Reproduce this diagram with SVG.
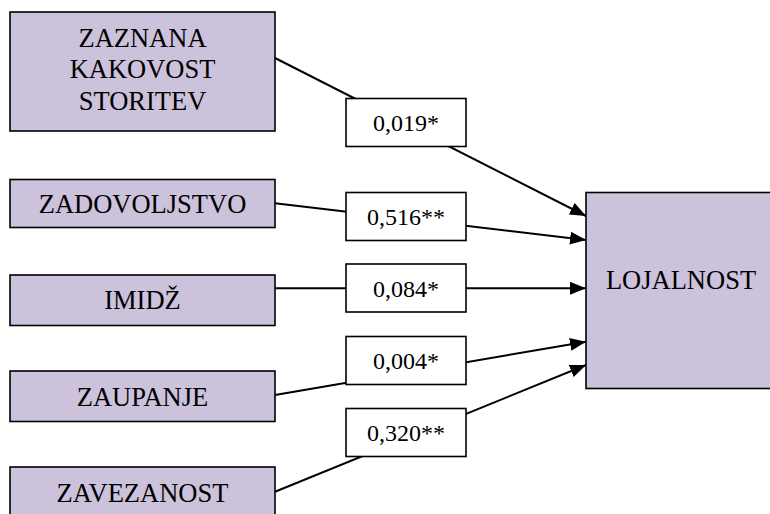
<svg xmlns="http://www.w3.org/2000/svg" width="770" height="514" viewBox="0 0 770 514">
<style>
.node{fill:#CCC2DB;stroke:#000;stroke-width:1.6}
.lbl{fill:#fff;stroke:#000;stroke-width:1.6}
.t{font-family:"Liberation Serif","Times New Roman",serif;font-size:26.5px;fill:#000;text-anchor:middle}
.tl{font-family:"Liberation Serif","Times New Roman",serif;font-size:24px;fill:#000;text-anchor:middle}
.c{stroke:#000;stroke-width:2;fill:none;marker-end:url(#ah)}
</style>
<defs>
<marker id="ah" viewBox="0 0 16 13" refX="16" refY="6.5" markerWidth="16" markerHeight="13" markerUnits="userSpaceOnUse" orient="auto">
<path d="M0,0 L16,6.5 L0,13 Z" fill="#000"/>
</marker>
</defs>
<rect width="770" height="514" fill="#fff"/>
<g id="connectors">
<line class="c" x1="275" y1="58" x2="586" y2="216"/>
<line class="c" x1="275" y1="203.3" x2="586" y2="240"/>
<line class="c" x1="275" y1="288.3" x2="586" y2="288.3"/>
<line class="c" x1="275" y1="395" x2="586" y2="341.7"/>
<line class="c" x1="275" y1="491.7" x2="586" y2="365"/>
</g>
<g id="n-zaznana">
<rect class="node" x="10" y="12" width="265" height="119"/>
<text class="t" x="142.5" y="47">ZAZNANA</text>
<text class="t" x="142.5" y="78">KAKOVOST</text>
<text class="t" x="142.5" y="110">STORITEV</text>
</g>
<g id="n-zadovoljstvo">
<rect class="node" x="10" y="179.5" width="265" height="48"/>
<text class="t" x="142.5" y="213">ZADOVOLJSTVO</text>
</g>
<g id="n-imidz">
<rect class="node" x="10" y="275" width="265" height="50.5"/>
<text class="t" x="142.5" y="309">IMIDŽ</text>
</g>
<g id="n-zaupanje">
<rect class="node" x="10" y="371" width="265" height="50.5"/>
<text class="t" x="142.5" y="406">ZAUPANJE</text>
</g>
<g id="n-zavezanost">
<rect class="node" x="10" y="467" width="265" height="60"/>
<text class="t" x="142.5" y="502">ZAVEZANOST</text>
</g>
<g id="n-lojalnost">
<rect class="node" x="586" y="192.5" width="200" height="196"/>
<text class="t" x="681" y="289">LOJALNOST</text>
</g>
<g id="l-1">
<rect class="lbl" x="346" y="98.5" width="120" height="48"/>
<text class="tl" x="406" y="131">0,019*</text>
</g>
<g id="l-2">
<rect class="lbl" x="346" y="192.5" width="120" height="48"/>
<text class="tl" x="406" y="225">0,516**</text>
</g>
<g id="l-3">
<rect class="lbl" x="346" y="264" width="120" height="48"/>
<text class="tl" x="406" y="297">0,084*</text>
</g>
<g id="l-4">
<rect class="lbl" x="346" y="336.5" width="120" height="48"/>
<text class="tl" x="406" y="369">0,004*</text>
</g>
<g id="l-5">
<rect class="lbl" x="346" y="408.5" width="120" height="48"/>
<text class="tl" x="406" y="441">0,320**</text>
</g>
</svg>
